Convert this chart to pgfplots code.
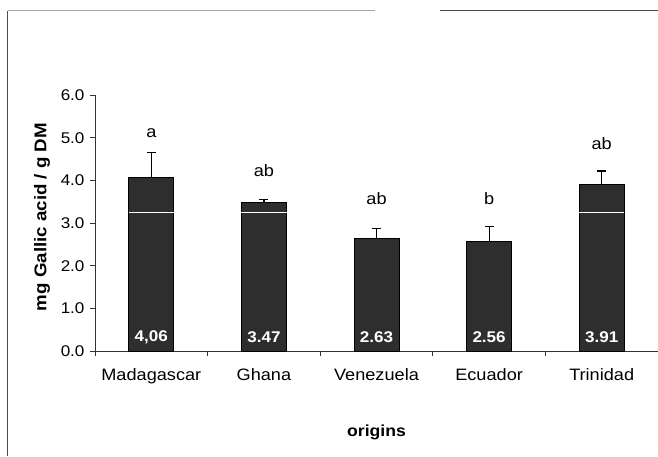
\documentclass[border=0pt]{standalone}
\usepackage{fontspec}
\setmainfont{Liberation Sans}[FakeStretch=1.1]
\usepackage{pgfplots}
\pgfplotsset{compat=1.18}
\begin{document}
\begin{tikzpicture}[x=1pt,y=1pt]
\path[use as bounding box] (0,0) rectangle (658,456);
% outer frame (scan border)
\draw[black!70, line width=1pt] (7.5,0) -- (7.5,445);
\draw[black!35, line width=1pt] (7.5,445) -- (375,445);
\draw[black!70, line width=1pt] (440,445) -- (658,445);
\begin{axis}[
  at={(95pt,105pt)}, anchor=south west,
  scale only axis, width=563pt, height=256pt,
  xmin=-0.5, xmax=4.5, ymin=0, ymax=6,
  axis lines=left, axis line style={-, black!80, line width=0.8pt},
  tick align=outside,
  major tick length=5pt,
  tick style={black!80, line width=0.8pt},
  ytick={0,1,2,3,4,5,6},
  /pgf/number format/assume math mode=true,
  yticklabel style={font=\fontsize{15.5}{15.5}\selectfont, xshift=-2pt, /pgf/number format/.cd, fixed, fixed zerofill, precision=1},
  xtick={-0.5,0.5,1.5,2.5,3.5},
  xticklabels={},
  extra x ticks={0,1,2,3,4},
  extra x tick labels={Madagascar,Ghana,Venezuela,Ecuador,Trinidad},
  extra x tick style={major tick length=0pt, tick label style={font=\fontsize{16.5}{16.5}\selectfont, yshift=-14pt}},
  xlabel={\textbf{origins}},
  ylabel={\textbf{mg Gallic acid / g DM}},
  xlabel style={at={(axis description cs:0.5,-0.316)}, anchor=center, font=\fontsize{16}{16}\selectfont},
  ylabel style={at={(axis description cs:-0.0941,0.523)}, anchor=center, font=\fontsize{17}{17}\selectfont},
  clip=false,
]
\addplot[ybar, bar width=45pt, fill=black!82, draw=black, line width=1pt,
  error bars/.cd, y dir=plus, y explicit,
  error bar style={black, line width=1.2pt},
  error mark options={rotate=90, mark size=4.5pt, line width=1.2pt, black}]
  table[x=x, y=y, y error=e] {
x y e
0 4.06 0.60
1 3.47 0.08
2 2.63 0.24
3 2.56 0.35
4 3.91 0.31
};
\addplot[white, line width=0.5pt, forget plot] coordinates {(-0.2,3.25) (1.2,3.25) (3.8,3.25) (4.2,3.25)};
\addplot[draw=none, mark=none, nodes near coords, point meta=explicit symbolic,
  nodes near coords align=center,
  every node near coord/.append style={white, font=\bfseries\fontsize{15.5}{15.5}\selectfont}]
  table[x=x, y=y, meta=l] {
x y l
0 0.33 {4,06}
1 0.33 3.47
2 0.33 2.63
3 0.33 2.56
4 0.33 3.91
};
\addplot[draw=none, mark=none, nodes near coords, point meta=explicit symbolic,
  nodes near coords align=center,
  every node near coord/.append style={black, font=\fontsize{16.5}{16.5}\selectfont}]
  table[x=x, y=y, meta=l] {
x y l
0 5.10 a
1 4.22 ab
2 3.58 ab
3 3.58 b
4 4.87 ab
};
\end{axis}
\end{tikzpicture}
\end{document}
